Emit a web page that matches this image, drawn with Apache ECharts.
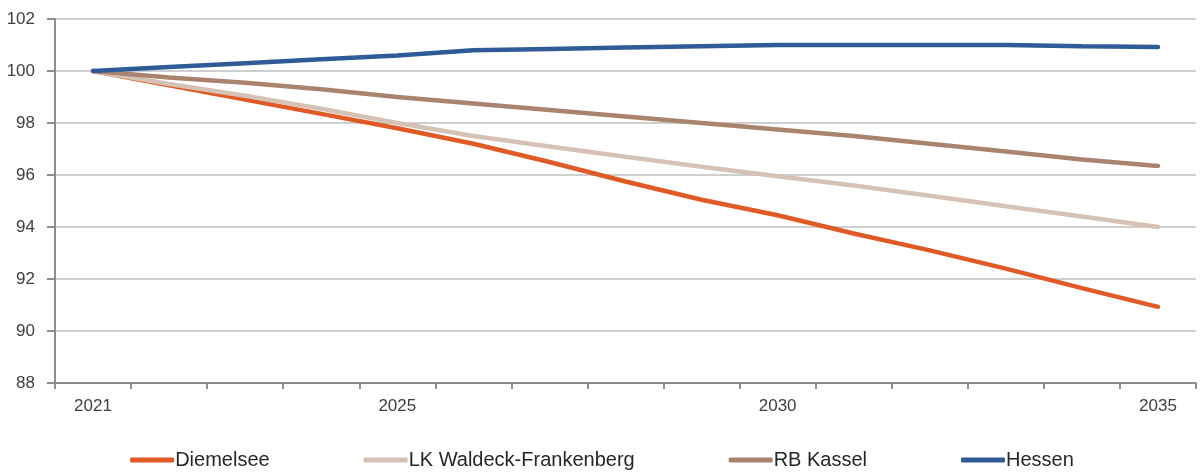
<!DOCTYPE html>
<html>
<head>
<meta charset="utf-8">
<script src="https://cdn.jsdelivr.net/npm/echarts@6/dist/echarts.min.js"></script>
<style>html,body{margin:0;padding:0;background:#fff;}#c{width:1204px;height:472px;}</style>
</head>
<body>
<div id="c"></div>
<script>
const years = ['2021','2022','2023','2024','2025','2026','2027','2028','2029','2030','2031','2032','2033','2034','2035'];
const shownYearLabels = ['2021','2025','2030','2035'];
const diemelsee = [100, 99.45, 98.9, 98.35, 97.8, 97.2, 96.5, 95.75, 95.05, 94.45, 93.75, 93.1, 92.4, 91.65, 90.93];
const waldeck = [100, 99.5, 99.05, 98.55, 98.0, 97.5, 97.1, 96.7, 96.32, 95.95, 95.6, 95.2, 94.8, 94.4, 94.0];
const kassel = [100, 99.75, 99.55, 99.3, 99.0, 98.75, 98.5, 98.25, 98.0, 97.75, 97.5, 97.2, 96.9, 96.6, 96.35];
const hessen = [100, 100.15, 100.3, 100.45, 100.6, 100.8, 100.85, 100.9, 100.95, 101.0, 101.0, 101.0, 101.0, 100.95, 100.92];
const seriesNames = ['Diemelsee', 'LK Waldeck-Frankenberg', 'RB Kassel', 'Hessen'];
const colors = ['#E05A26', '#D6C1B5', '#A9836E', '#2F5C97'];
const seriesData = [diemelsee, waldeck, kassel, hessen];

const chart = echarts.init(document.getElementById('c'), null, {renderer: 'canvas'});
chart.setOption({
  animation: false,
  backgroundColor: '#fff',
  grid: {left: 55, right: 8, top: 19, bottom: 89, containLabel: false},
  legend: {
    data: seriesNames,
    top: 450,
    left: 'center',
    padding: 0,
    icon: 'roundRect',
    itemWidth: 44,
    itemHeight: 5,
    itemGap: 94,
    textStyle: {fontFamily: 'Liberation Sans, Arial', fontSize: 20, color: '#262626', padding: [0,0,0,-4]}
  },
  xAxis: {
    type: 'category',
    data: years,
    boundaryGap: true,
    axisLine: {lineStyle: {color: '#8c8c8c', width: 2}},
    axisTick: {show: true, interval: 0, length: 6, lineStyle: {color: '#8c8c8c', width: 2}},
    axisLabel: {
      interval: 0,
      margin: 15,
      fontFamily: 'Liberation Sans, Arial',
      fontSize: 17,
      color: '#404040',
      formatter: v => shownYearLabels.indexOf(v) >= 0 ? v : ''
    },
    splitLine: {show: false}
  },
  yAxis: {
    type: 'value',
    min: 88,
    max: 102,
    interval: 2,
    axisLine: {show: true, lineStyle: {color: '#8c8c8c', width: 2}},
    axisTick: {show: true, length: 8, lineStyle: {color: '#8c8c8c', width: 2}},
    axisLabel: {margin: 20, fontFamily: 'Liberation Sans, Arial', fontSize: 17, color: '#404040'},
    splitLine: {show: true, lineStyle: {color: '#cfcfcf', width: 2}}
  },
  series: seriesNames.map((n, i) => ({
    name: n,
    type: 'line',
    data: seriesData[i],
    symbol: 'none',
    smooth: false,
    color: colors[i],
    lineStyle: {width: 4.5, color: colors[i], cap: 'round'}
  }))
});
</script>
</body>
</html>
